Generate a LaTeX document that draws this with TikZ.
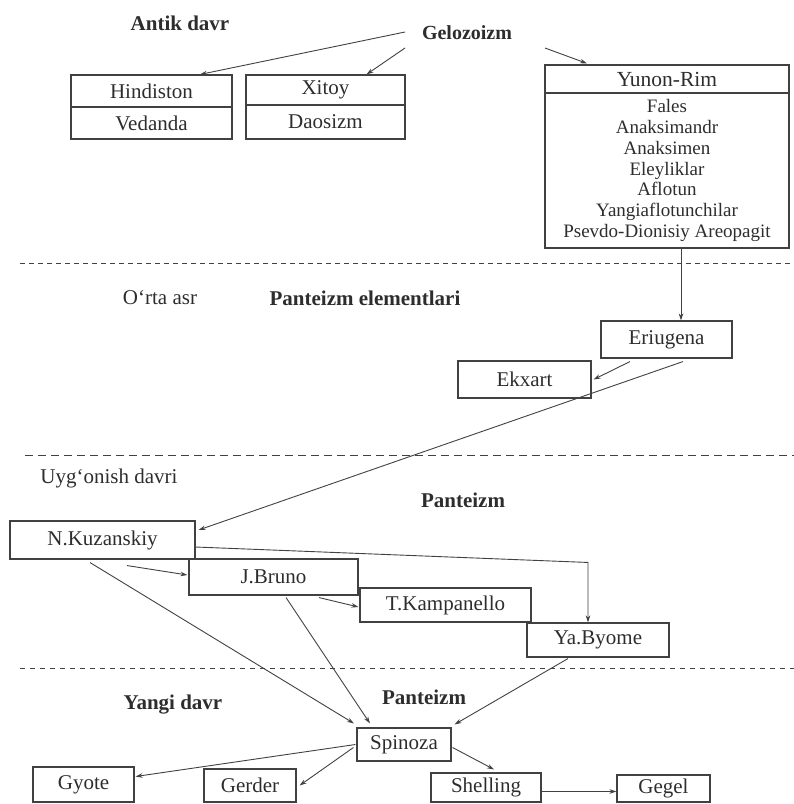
\documentclass[tikz,border=0pt]{standalone}
\usepackage{fontspec}
\setmainfont{Liberation Serif}
\usetikzlibrary{arrows.meta,calc}
\definecolor{ink}{RGB}{45,45,45}
\definecolor{lineink}{RGB}{65,65,65}
\begin{document}
\begin{tikzpicture}[x=1pt,y=-1pt,
  box/.style={draw=lineink, line width=1.1pt, inner sep=0pt, text=ink, font=\fontsize{21}{24}\selectfont},
  lbl/.style={inner sep=0pt, text=ink, font=\fontsize{21}{24}\selectfont},
  blbl/.style={inner sep=0pt, text=ink, font=\fontsize{21}{24}\selectfont\bfseries},
  arr/.style={draw=lineink, line width=0.9pt, -{Stealth[length=7pt,width=4.5pt]}},
  sepline/.style={draw=lineink, line width=1pt},
]
\useasboundingbox (0,0) rectangle (794,804);

% labels
\node[blbl] (antik) at (180,23) {Antik davr};
\node[blbl, font=\fontsize{20}{24}\selectfont\bfseries] (gel) at (467,33) {Gelozoizm};
\node[lbl] (orta) at (160,298) {O‘rta asr};
\node[blbl] (pel) at (365,298) {Panteizm elementlari};
\node[lbl] (uyg) at (109,478) {Uyg‘onish davri};
\node[blbl] (pan1) at (463,500) {Panteizm};
\node[blbl] (yangi) at (173,705) {Yangi davr};
\node[blbl] (pan2) at (424,697) {Panteizm};

% separators
\coordinate (s1a) at (20,263);  \coordinate (s1b) at (794,263);
\coordinate (s2a) at (25,455);  \coordinate (s2b) at (794,455);
\coordinate (s3a) at (20,668);  \coordinate (s3b) at (794,668);
\draw[sepline, dash pattern=on 5pt off 4pt] (s1a) -- (s1b);
\draw[sepline, dash pattern=on 8pt off 5pt] (s2a) -- (s2b);
\draw[sepline, dash pattern=on 5pt off 5pt] (s3a) -- (s3b);

% antiquity boxes
\node[box, minimum width=161pt, minimum height=32pt] (hind) at (151.5,91) {Hindiston};
\node[box, minimum width=161pt, minimum height=32pt] (veda) at (151.5,123) {Vedanda};
\node[box, minimum width=159pt, minimum height=30pt] (xitoy) at (325.5,90) {Xitoy};
\node[box, minimum width=159pt, minimum height=34pt] (daos) at (325.5,122) {Daosizm};
\node[box, minimum width=244pt, minimum height=28pt, font=\fontsize{21.5}{24}\selectfont] (yunon) at (667,79) {Yunon-Rim};
\node[box, minimum width=244pt, minimum height=155pt] (ylist) at (667,170.5) {};
\node[lbl, align=center, font=\fontsize{19}{20.8}\selectfont] (ytext) at (667,170.5) {Fales\\Anaksimandr\\Anaksimen\\Eleyliklar\\Aflotun\\Yangiaflotunchilar\\Psevdo-Dionisiy Areopagit};

% middle ages
\node[box, minimum width=131pt, minimum height=37pt] (eriu) at (666.5,339.5) {Eriugena};
\node[box, minimum width=133pt, minimum height=37pt] (ekx) at (524.5,379.5) {Ekxart};

% renaissance
\node[box, minimum width=185pt, minimum height=38pt] (kuz) at (102.5,540) {N.Kuzanskiy};
\node[box, minimum width=169pt, minimum height=36pt] (bruno) at (273.5,577) {J.Bruno};
\node[box, minimum width=171pt, minimum height=34pt] (kamp) at (445.5,605) {T.Kampanello};
\node[box, minimum width=142pt, minimum height=34pt] (byome) at (598,640) {Ya.Byome};

% new age
\node[box, minimum width=94pt, minimum height=33pt] (spin) at (404,744.5) {Spinoza};
\node[box, minimum width=101pt, minimum height=35pt] (gyote) at (83.5,784.5) {Gyote};
\node[box, minimum width=92pt, minimum height=33pt] (gerder) at (250,785.5) {Gerder};
\node[box, minimum width=110pt, minimum height=29pt] (shell) at (486,787.5) {Shelling};
\node[box, minimum width=93pt, minimum height=27pt] (gegel) at (663.5,788.5) {Gegel};

% connectors
\draw[arr] ($(gel.center)+(-62,-1)$) -- ($(hind.north)+(48.5,0)$);
\draw[arr] ($(gel.center)+(-62,15)$) -- ($(xitoy.north)+(41,0)$);
\draw[arr] ($(gel.center)+(78,15)$) -- ($(yunon.north)+(-80,-1)$);
\draw[arr] ($(ylist.south)+(14,0)$) -- ($(eriu.north)+(14.5,0)$);
\draw[arr] ($(eriu.south)+(-36.5,3)$) -- ($(ekx.east)+(2,0)$);
\draw[arr] ($(eriu.south)+(16.5,3)$) -- ($(kuz.east)+(3,-10)$);
\draw[arr] ($(kuz.south)+(24.5,6)$) -- ($(bruno.west)+(-1,-2)$);
\draw[arr] ($(kuz.east)+(0,7)$) -- ($(byome.north)+(-10,-60)$) -- ($(byome.north)+(-10,0)$);
\draw[arr] ($(bruno.south)+(45.5,2)$) -- ($(kamp.west)+(-1,2)$);
\draw[arr] ($(kuz.south)+(-12.5,3)$) -- ($(spin.north)+(-50,-4)$);
\draw[arr] ($(bruno.south)+(12.5,2)$) -- ($(spin.north)+(-34,-4)$);
\draw[arr] ($(byome.south)+(-30,1)$) -- ($(spin.north east)+(3,-3)$);
\draw[arr] ($(spin.west)+(-1,0)$) -- ($(gyote.east)+(1,-8)$);
\draw[arr] ($(spin.west)+(-3,3)$) -- ($(gerder.east)+(3,0)$);
\draw[arr] ($(spin.east)+(1,3)$) -- ($(shell.north)+(8,-3)$);
\draw[arr] ($(shell.east)+(0,4)$) -- ($(gegel.west)+(0,3)$);
\end{tikzpicture}
\end{document}
